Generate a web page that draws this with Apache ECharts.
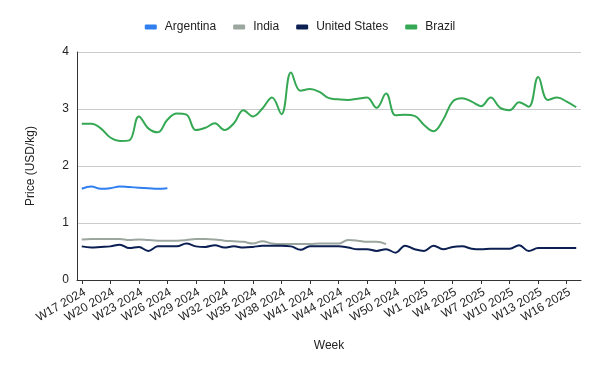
<!DOCTYPE html>
<html>
<head>
<meta charset="utf-8">
<script src="https://cdn.jsdelivr.net/npm/echarts@6/dist/echarts.min.js"></script>
<style>html,body{margin:0;padding:0;background:#fff}#c{width:600px;height:371px}</style>
</head>
<body>
<div id="c"></div>
<script>
const weeks = [
  'W17 2024','W18 2024','W19 2024','W20 2024','W21 2024','W22 2024','W23 2024','W24 2024','W25 2024','W26 2024',
  'W27 2024','W28 2024','W29 2024','W30 2024','W31 2024','W32 2024','W33 2024','W34 2024','W35 2024','W36 2024',
  'W37 2024','W38 2024','W39 2024','W40 2024','W41 2024','W42 2024','W43 2024','W44 2024','W45 2024','W46 2024',
  'W47 2024','W48 2024','W49 2024','W50 2024','W51 2024','W52 2024',
  'W1 2025','W2 2025','W3 2025','W4 2025','W5 2025','W6 2025','W7 2025','W8 2025','W9 2025','W10 2025',
  'W11 2025','W12 2025','W13 2025','W14 2025','W15 2025','W16 2025','W17 2025'
];
const argentina = [1.60,1.64,1.60,1.61,1.64,1.63,1.62,1.61,1.60,1.61];
const india = [0.71,0.72,0.72,0.72,0.72,0.70,0.71,0.70,0.69,0.69,
  0.69,0.70,0.72,0.72,0.71,0.69,0.68,0.67,0.64,0.68,
  0.64,0.63,0.63,0.63,0.63,0.64,0.64,0.64,0.70,0.69,
  0.67,0.67,0.63];
const unitedStates = [0.59,0.57,0.58,0.59,0.62,0.56,0.58,0.51,0.59,0.59,
  0.59,0.64,0.59,0.58,0.61,0.57,0.59,0.57,0.58,0.60,
  0.60,0.60,0.59,0.53,0.59,0.59,0.59,0.59,0.57,0.54,
  0.54,0.51,0.54,0.48,0.60,0.54,0.51,0.60,0.54,0.58,
  0.59,0.55,0.54,0.55,0.55,0.55,0.61,0.51,0.56,0.56,
  0.56,0.56,0.56];
const brazil = [2.74,2.74,2.66,2.50,2.44,2.45,2.87,2.66,2.59,2.81,
  2.92,2.90,2.63,2.67,2.75,2.63,2.75,2.98,2.87,3.01,
  3.20,2.91,3.64,3.32,3.35,3.30,3.19,3.17,3.16,3.18,
  3.20,3.02,3.27,2.89,2.90,2.88,2.72,2.61,2.81,3.13,
  3.19,3.13,3.05,3.20,3.02,2.98,3.12,3.04,3.56,3.16,
  3.20,3.13,3.03];
const yTicks = [0,1,2,3,4];

const names = ['Argentina','India','United States','Brazil'];
const colors = ['#2f7ff0','#9ba69e','#0c1f52','#34a853'];
const values = [argentina, india, unitedStates, brazil];

const chart = echarts.init(document.getElementById('c'), null, {renderer:'canvas'});
chart.setOption({
  animation: false,
  color: colors,
  textStyle: {fontFamily: 'Liberation Sans, Arial, sans-serif'},
  legend: {
    top: 16, left: 'center',
    icon: 'roundRect', itemWidth: 12, itemHeight: 5, itemGap: 17,
    textStyle: {fontSize: 12, color: '#222', padding: [0,0,0,3]},
    data: names
  },
  grid: {left: 77, right: 19, top: 52, bottom: 91, containLabel: false},
  xAxis: {
    type: 'category',
    data: weeks,
    boundaryGap: true,
    name: 'Week', nameLocation: 'middle', nameGap: 60,
    nameTextStyle: {fontSize: 12, color: '#222'},
    axisLine: {lineStyle: {color: '#333', width: 1}},
    axisTick: {show: true, alignWithLabel: true, interval: 2, length: 4, lineStyle: {color: '#333'}},
    axisLabel: {interval: 2, rotate: 30, fontSize: 12, color: '#222', margin: 6, verticalAlign: 'top'}
  },
  yAxis: {
    type: 'value', min: yTicks[0], max: yTicks[yTicks.length-1], interval: 1,
    name: 'Price (USD/kg)', nameLocation: 'middle', nameGap: 40, nameRotate: 90,
    nameTextStyle: {fontSize: 12, color: '#222'},
    axisLine: {show: true, lineStyle: {color: '#333', width: 1}},
    axisTick: {show: false},
    axisLabel: {fontSize: 12, color: '#222', margin: 8},
    splitLine: {lineStyle: {color: '#cccccc'}}
  },
  series: names.map((n,i)=>({
    name: n, type: 'line', data: values[i], smooth: 0.4,
    showSymbol: false, symbol: 'none',
    lineStyle: {width: 2, color: colors[i]},
    itemStyle: {color: colors[i]},
    emphasis: {disabled: true}
  }))
});
</script>
</body>
</html>
